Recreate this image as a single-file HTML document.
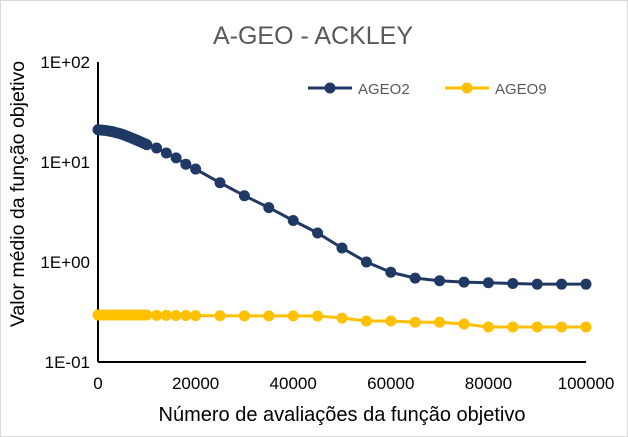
<!DOCTYPE html>
<html><head><meta charset="utf-8"><style>
html,body{margin:0;padding:0;background:#fff;}
svg{display:block;font-family:"Liberation Sans",sans-serif;}
</style></head><body>
<svg id="chart" width="628" height="437" viewBox="0 0 628 437">
<rect x="0.5" y="0.5" width="627" height="436" fill="#fff" stroke="#d9d9d9"/>
<text x="313" y="44" text-anchor="middle" font-size="25" fill="#595959">A-GEO - ACKLEY</text>
<g id="axes"></g>
<g id="series"></g>
<g>
<g>
<line x1="308" y1="88" x2="352" y2="88" stroke="#203864" stroke-width="3"/>
<circle cx="330" cy="88" r="5.5" fill="#203864"/>
<text x="358" y="94" font-size="15" fill="#595959">AGEO2</text></g>
<g>
<line x1="445" y1="88" x2="489" y2="88" stroke="#ffc000" stroke-width="3"/>
<circle cx="467" cy="88" r="5.5" fill="#ffc000"/>
<text x="495" y="94" font-size="15" fill="#595959">AGEO9</text></g>
</g>
<text x="342" y="421" text-anchor="middle" font-size="20" fill="#000">Número de avaliações da função objetivo</text>
<text transform="translate(24,194) rotate(-90)" text-anchor="middle" font-size="19.5" fill="#000">Valor médio da função objetivo</text>
</svg>
<script>
const xValues=[0,500,1000,1500,2000,2500,3000,3500,4000,4500,5000,5500,6000,6500,7000,7500,8000,8500,9000,9500,10000,12000,14000,16000,18000,20000,25000,30000,35000,40000,45000,50000,55000,60000,65000,70000,75000,80000,85000,90000,95000,100000];
const ageo2=[21.0,20.9,20.8,20.7,20.5,20.3,20.1,19.8,19.5,19.2,18.9,18.5,18.1,17.7,17.3,16.9,16.5,16.1,15.7,15.3,14.9,13.8,12.3,11.0,9.5,8.5,6.2,4.6,3.5,2.6,1.95,1.38,1.0,0.79,0.69,0.65,0.63,0.62,0.61,0.6,0.6,0.6];
const ageo9=[0.295,0.295,0.295,0.295,0.295,0.295,0.295,0.295,0.295,0.295,0.295,0.295,0.295,0.295,0.295,0.295,0.295,0.295,0.295,0.295,0.295,0.293,0.293,0.292,0.292,0.291,0.29,0.289,0.289,0.289,0.288,0.275,0.257,0.257,0.25,0.25,0.24,0.224,0.224,0.224,0.224,0.224];
const xTicks=[0,20000,40000,60000,80000,100000];
const yTicks=[0.1,1,10,100];
const yTickLabels=["1E-01","1E+00","1E+01","1E+02"];
const NS="http://www.w3.org/2000/svg";
const X0=98,X1=586,Y0=362,Y1=62;
function sx(v){return X0+(v/100000)*(X1-X0);}
function sy(v){return Y0-(Math.log10(v)+1)/3*(Y0-Y1);}
function mk(tag,attrs,parent){const e=document.createElementNS(NS,tag);for(const k in attrs)e.setAttribute(k,attrs[k]);parent.appendChild(e);return e;}
const axes=document.getElementById('axes');
const ya=mk('line',{x1:X0,y1:Y1,x2:X0,y2:Y0,stroke:'#000','stroke-width':2},axes);


const xa=mk('line',{x1:X0,y1:Y0,x2:X1,y2:Y0,stroke:'#000','stroke-width':2},axes);


xTicks.forEach(t=>{const e=mk('text',{x:sx(t),y:Y0+27,'text-anchor':'middle','font-size':17,fill:'#000'},axes);e.textContent=t;

});
yTicks.forEach((t,i)=>{const e=mk('text',{x:X0-8,y:sy(t)+6,'text-anchor':'end','font-size':17,fill:'#000'},axes);e.textContent=yTickLabels[i];

});
const ser=document.getElementById('series');
function draw(vals,color,name){
const g=mk('g',{},ser);


const p=mk('polyline',{points:xValues.map((x,i)=>sx(x)+','+sy(vals[i])).join(' '),fill:'none',stroke:color,'stroke-width':3,'stroke-linejoin':'round'},g);


xValues.forEach((x,i)=>{const c=mk('circle',{cx:sx(x),cy:sy(vals[i]),r:5.5,fill:color},g);

});
}
draw(ageo9,'#ffc000','series-ageo9');
draw(ageo2,'#203864','series-ageo2');
</script>
</body></html>
